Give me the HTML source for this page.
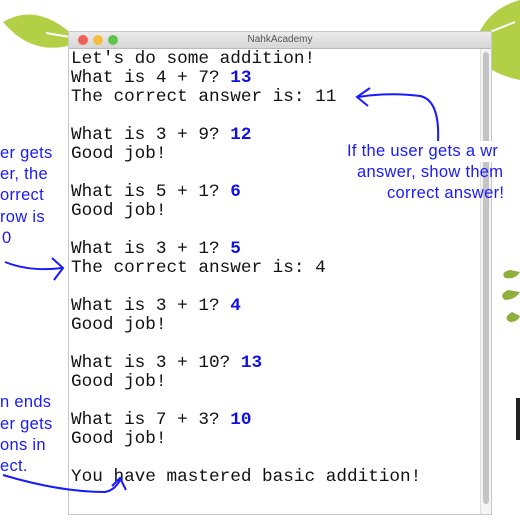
<!DOCTYPE html>
<html><head><style>
body{margin:0;width:520px;height:520px;background:#fff;position:relative;overflow:hidden;font-family:"Liberation Sans",sans-serif}
.win{position:absolute;left:68px;top:31px;width:422px;height:482px;border:1px solid #c8c8c8;background:#fff}
.tb{height:16px;background:linear-gradient(#ebebeb,#d6d6d6);border-bottom:1px solid #bbb;text-align:center;font-size:10px;line-height:16px;color:#555}
.dot{position:absolute;top:3px;width:10px;height:10px;border-radius:50%}
.sb{position:absolute;right:0;top:17px;width:10px;bottom:0;background:#f4f4f4;border-left:1px solid #e0e0e0}
.sb div{position:absolute;left:2px;right:2px;top:3px;bottom:10px;background:#c4c4c4;border-radius:3px}
pre{position:absolute;left:2px;top:18px;margin:0;font-family:"Liberation Mono",monospace;font-size:17.7px;line-height:19px;color:#111}
b{color:#1010e0}
.n{position:absolute;color:#1a1aff;font-size:16.5px;line-height:21px;white-space:nowrap;letter-spacing:0.3px}
</style></head><body>
<svg width="520" height="520" style="position:absolute;left:0;top:0">
<path d="M3,22 Q40,0 80,42 Q35,60 3,22Z" fill="#b2cf45"/>
<path d="M46,33 L76,38" stroke="#fff" stroke-width="2"/>
<path d="M520,0 L520,80 Q470,70 478,35 Q490,8 520,0Z" fill="#b2cf45"/>
<path d="M480,36 L515,22" stroke="#fff" stroke-width="2"/>
<path d="M510,270 Q500,272 505,278 Q515,280 520,272Z" fill="#8fae3e"/>
<path d="M508,290 Q498,295 505,300 Q515,300 520,292Z" fill="#8fae3e"/>
<path d="M512,312 Q502,318 510,322 Q518,322 520,316Z" fill="#8fae3e"/>
<rect x="516" y="398" width="4" height="42" fill="#222"/>
</svg>
<div class="win">
<div class="tb">NahkAcademy</div>
<div class="dot" style="left:9px;background:#ee5f57"></div>
<div class="dot" style="left:24px;background:#f4bd40"></div>
<div class="dot" style="left:39px;background:#5fc54a"></div>
<div class="sb"><div></div></div>
<pre>Let's do some addition!
What is 4 + 7? <b>13</b>
The correct answer is: 11

What is 3 + 9? <b>12</b>
Good job!

What is 5 + 1? <b>6</b>
Good job!

What is 3 + 1? <b>5</b>
The correct answer is: 4

What is 3 + 1? <b>4</b>
Good job!

What is 3 + 10? <b>13</b>
Good job!

What is 7 + 3? <b>10</b>
Good job!

You have mastered basic addition!</pre>
</div>
<svg width="520" height="520" style="position:absolute;left:0;top:0" fill="none" stroke="#1a1aff" stroke-width="2">
<path d="M438,142 Q440,100 420,96 Q390,92 358,97"/>
<path d="M370,88 L357,97 L368,106"/>
<path d="M5,262 Q30,272 62,268"/>
<path d="M52,258 L63,268 L54,280"/>
<path d="M3,475 Q60,492 105,492 Q115,490 120,480"/>
<path d="M112,486 L120,478 L126,490"/>
</svg>
<div class="n" style="left:347px;top:141px;background:#fff">If the user gets a wr</div>
<div class="n" style="left:357px;top:162px">answer, show them</div>
<div class="n" style="left:387px;top:183px">correct answer!</div>
<div class="n" style="left:0;top:143px">er gets</div>
<div class="n" style="left:0;top:164px">er, the</div>
<div class="n" style="left:0;top:185px">orrect</div>
<div class="n" style="left:0;top:207px">row is</div>
<div class="n" style="left:2px;top:228px">0</div>
<div class="n" style="left:0;top:392px">n ends</div>
<div class="n" style="left:0;top:414px">er gets</div>
<div class="n" style="left:0;top:435px">ons in</div>
<div class="n" style="left:0;top:456px">ect.</div>
</body></html>
